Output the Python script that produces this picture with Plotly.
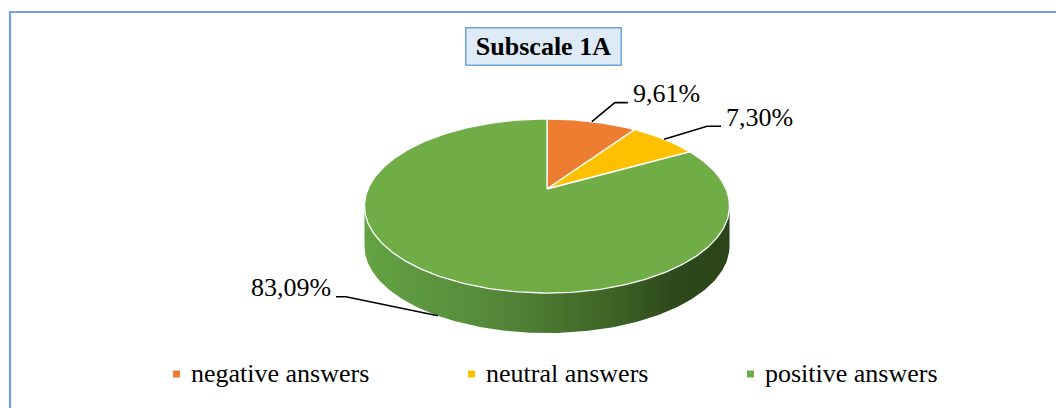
import numpy as np
import plotly.graph_objects as go

# ---------------- data ----------------
categories = ["negative answers", "neutral answers", "positive answers"]
values = [9.61, 7.30, 83.09]
value_labels = ["9,61%", "7,30%", "83,09%"]
title_text = "Subscale 1A"

# ---------------- styles ----------------
colors = ["#ED7D31", "#FFC000", "#70AD47"]
side_scales = [
    [[0, "#c9692a"], [1, "#6e3a16"]],
    [[0, "#d9a300"], [1, "#775a00"]],
    [[0, "#64a243"], [0.35, "#55893a"], [0.65, "#3f6627"], [0.85, "#2d4a1c"], [1, "#2b4419"]],
]
FONT = "'Liberation Serif', 'Times New Roman', Times, 'DejaVu Serif', serif"
W, H = 1064, 408
OFF = 8  # page body margin

# pie geometry (pixel space, perspective tilt)
CX, CY = 547.0, 189.0
K = 0.1955
A = 179.0
B = 83.7
DEPTH = 40.0

# label leader styles: depth fraction of anchor, elbow offset, horizontal run
leader_depth = [0.0, 0.0, 1.0]
leader_elbow = [(23, -19), (43, -13), (-92, -19)]
leader_run = [13, 14, -10]

legend_x = [176.5, 471.5, 750.5]
legend_y = 374


def proj(theta, dy=0.0):
    u = np.sin(theta)
    v = np.cos(theta)
    d = 1 + K * v
    return CX + A * u / d, CY - B * v / d + dy


fig = go.Figure()

total = float(sum(values))
fracs = [v / total for v in values]
starts = np.concatenate([[0.0], np.cumsum(fracs)[:-1]]) * 2 * np.pi
ends = np.cumsum(fracs) * 2 * np.pi

# visible front side range
th_a = np.arccos(-K)
th_b = 2 * np.pi - th_a
x_left = proj(th_b)[0]
x_right = proj(th_a)[0]

# sides
for i in range(len(values)):
    t0 = max(starts[i], th_a)
    t1 = min(ends[i], th_b)
    if t1 <= t0:
        continue
    t = np.linspace(t0, t1, 200)
    xt, yt = proj(t)
    xb, yb = proj(t[::-1], DEPTH)
    xs = np.concatenate([xt, xb, xt[:1]])
    ys = np.concatenate([yt, yb, yt[:1]])
    fig.add_trace(go.Scatter(
        x=xs, y=ys, mode="lines", fill="toself",
        line=dict(width=0, color=colors[i]),
        fillgradient=dict(type="horizontal", colorscale=side_scales[i],
                          start=x_left, stop=x_right),
        hoverinfo="skip", showlegend=False))

# tops
for i in range(len(values)):
    n = max(int(400 * fracs[i]), 8)
    t = np.linspace(starts[i], ends[i], n)
    xa, ya = proj(t)
    xs = np.concatenate([[CX], xa, [CX]])
    ys = np.concatenate([[CY], ya, [CY]])
    fig.add_trace(go.Scatter(
        x=xs, y=ys, mode="lines", fill="toself", fillcolor=colors[i],
        line=dict(width=1.3, color="white"),
        hoverinfo="skip", showlegend=False))

# leaders + data labels
annotations = []
for i in range(len(values)):
    mid = (starts[i] + ends[i]) / 2
    ax0, ay0 = proj(mid, leader_depth[i] * DEPTH)
    ex, ey = ax0 + leader_elbow[i][0], ay0 + leader_elbow[i][1]
    hx = ex + leader_run[i]
    fig.add_trace(go.Scatter(
        x=[ax0, ex, hx], y=[ay0, ey, ey], mode="lines",
        line=dict(color="black", width=1.6),
        hoverinfo="skip", showlegend=False))
    right = leader_run[i] > 0
    annotations.append(dict(
        x=hx + (3 if right else -3), y=ey - 9, xref="x", yref="y",
        text=value_labels[i], showarrow=False,
        xanchor="left" if right else "right", yanchor="middle",
        font=dict(family=FONT, size=26, color="black")))

# legend (manual, square markers)
fig.add_trace(go.Scatter(
    x=legend_x, y=[legend_y] * len(categories), mode="markers",
    marker=dict(symbol="square", size=7, color=colors, line=dict(width=0)),
    hoverinfo="skip", showlegend=False))
for i, cat in enumerate(categories):
    annotations.append(dict(
        x=legend_x[i] + 12.5, y=legend_y - 0.5, xref="x", yref="y",
        text=cat, showarrow=False, xanchor="left", yanchor="middle",
        font=dict(family=FONT, size=26, color="black")))

# title box
annotations.append(dict(
    x=543.5, y=46.5, xref="x", yref="y", text="<b>" + title_text + "</b>",
    showarrow=False, xanchor="center", yanchor="middle",
    width=148, height=30, borderpad=3, borderwidth=1.5,
    bordercolor="#6FA3DA", bgcolor="#DEEBF7",
    font=dict(family=FONT, size=26, color="black")))

fig.update_layout(
    width=W, height=H,
    margin=dict(l=0, r=0, t=0, b=0),
    paper_bgcolor="white", plot_bgcolor="white",
    font=dict(family=FONT),
    xaxis=dict(range=[OFF, W + OFF], visible=False, fixedrange=True),
    yaxis=dict(range=[H + OFF, OFF], visible=False, fixedrange=True),
    annotations=annotations,
    shapes=[dict(type="rect", xref="x", yref="y", x0=10, y0=12, x1=W + 60, y1=H + 60,
                 line=dict(color="#6FA3DA", width=2.2), layer="below")],
    showlegend=False,
)

fig.write_html("out.html")
